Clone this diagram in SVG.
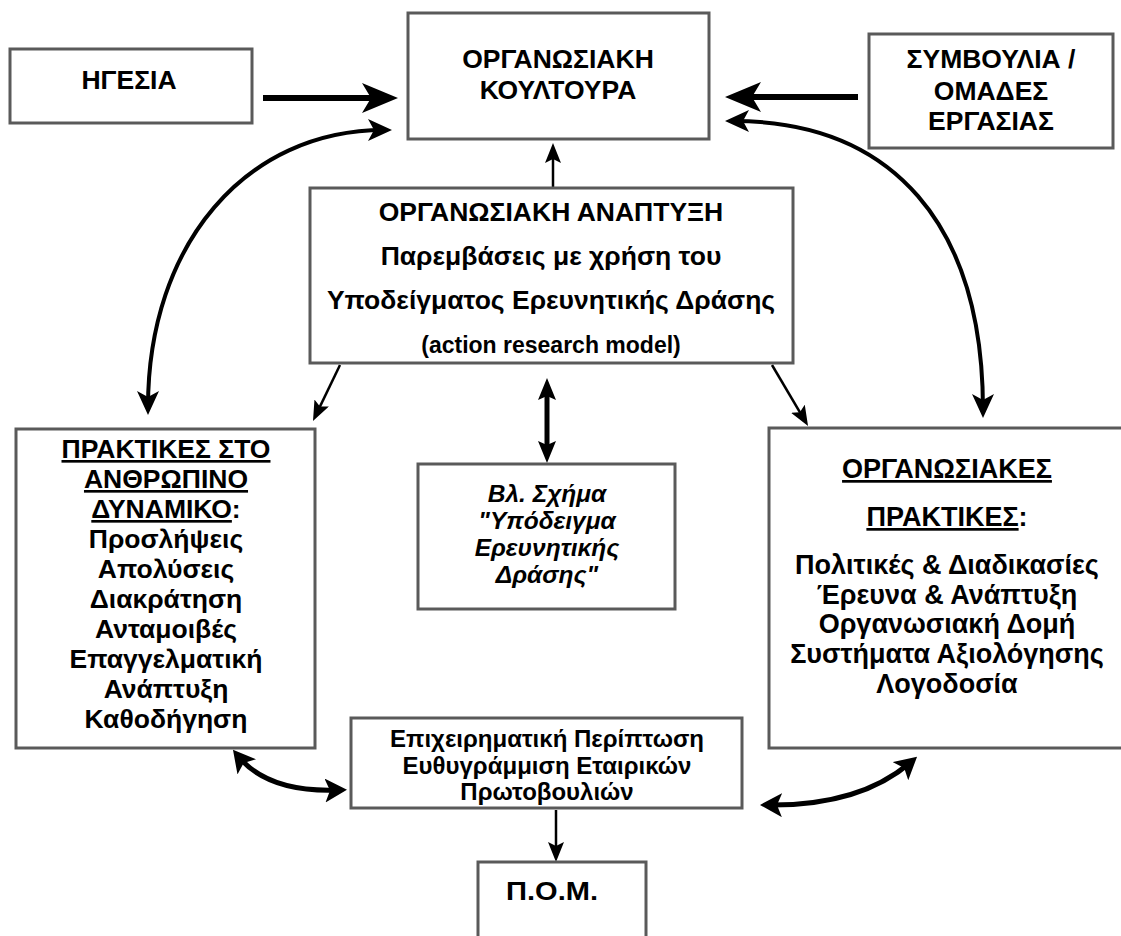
<svg xmlns="http://www.w3.org/2000/svg" width="1121" height="936" viewBox="0 0 1121 936">
  <style>
    .box { fill: #ffffff; stroke: #5a5a5a; stroke-width: 3; }
    .t { font-family: "Liberation Sans", Arial, sans-serif; font-weight: bold; fill: #000; text-anchor: middle; }
    .top { font-size: 26.5px; }
    .od { font-size: 26.5px; }
    .od-sub { font-size: 23px; }
    .hr { font-size: 26.5px; }
    .org { font-size: 27px; }
    .fig { font-size: 24.5px; font-style: italic; }
    .bc { font-size: 24px; }
    .hrm { font-size: 26px; }
    .u { text-decoration: underline; }
    .c { fill: none; stroke: #000; stroke-linecap: butt; }
  </style>
  <defs>
    <marker id="headA" markerUnits="userSpaceOnUse" markerWidth="36" markerHeight="30" refX="26" refY="15" orient="auto-start-reverse" viewBox="0 0 36 30">
      <path d="M0,0 L36,15 L0,30 L9,15 Z" fill="#000"/>
    </marker>
    <marker id="headB" markerUnits="userSpaceOnUse" markerWidth="24" markerHeight="22" refX="16" refY="11" orient="auto-start-reverse" viewBox="0 0 24 22">
      <path d="M0,0 L24,11 L0,22 L6,11 Z" fill="#000"/>
    </marker>
    <marker id="headC" markerUnits="userSpaceOnUse" markerWidth="20" markerHeight="16" refX="14" refY="8" orient="auto-start-reverse" viewBox="0 0 20 16">
      <path d="M0,0 L20,8 L0,16 L4,8 Z" fill="#000"/>
    </marker>
    <marker id="headD" markerUnits="userSpaceOnUse" markerWidth="22" markerHeight="18" refX="14" refY="9" orient="auto-start-reverse" viewBox="0 0 22 18">
      <path d="M0,0 L22,9 L0,18 L4,9 Z" fill="#000"/>
    </marker>
    <marker id="headE" markerUnits="userSpaceOnUse" markerWidth="22" markerHeight="24" refX="14" refY="12" orient="auto-start-reverse" viewBox="0 0 22 24">
      <path d="M0,0 L22,12 L0,24 L5,12 Z" fill="#000"/>
    </marker>
  </defs>

  <rect width="1121" height="936" fill="#ffffff"/>

  <!-- connectors -->
  <g id="connectors">
    <path class="c" stroke-width="6" d="M263,98 L388,98" marker-end="url(#headA)"/>
    <path class="c" stroke-width="6" d="M858,97 L735,97" marker-end="url(#headA)"/>
    <path class="c" stroke-width="4" d="M384,130 C246,130 148,244 148,407" marker-start="url(#headB)" marker-end="url(#headB)"/>
    <path class="c" stroke-width="4" d="M733,121 C893,121 983,225 983,410" marker-start="url(#headB)" marker-end="url(#headB)"/>
    <path class="c" stroke-width="2.5" d="M553,188 L553,149" marker-end="url(#headC)"/>
    <path class="c" stroke-width="2.5" d="M340,365 L315.6,415.6" marker-end="url(#headC)"/>
    <path class="c" stroke-width="2.5" d="M772,365 L805,420.8" marker-end="url(#headC)"/>
    <path class="c" stroke-width="5" stroke="#222" d="M547,386 L547,455" marker-start="url(#headD)" marker-end="url(#headD)"/>
    <path class="c" stroke-width="5" d="M238,756 Q268,793 339,790" marker-start="url(#headE)" marker-end="url(#headE)"/>
    <path class="c" stroke-width="5" d="M768,805 Q860,806 911,762" marker-start="url(#headE)" marker-end="url(#headE)"/>
    <path class="c" stroke-width="2.5" d="M556,810 L556,856" marker-end="url(#headC)"/>
  </g>

  <g id="leadership">
    <rect class="box" x="10" y="49" width="242" height="74"/>
    <text class="t top" x="129" y="89">ΗΓΕΣΙΑ</text>
  </g>

  <g id="culture">
    <rect class="box" x="408" y="13" width="301" height="126"/>
    <text class="t top" x="558" y="68">ΟΡΓΑΝΩΣΙΑΚΗ</text>
    <text class="t top" x="558" y="99">ΚΟΥΛΤΟΥΡΑ</text>
  </g>

  <g id="councils">
    <rect class="box" x="869" y="34" width="244" height="114"/>
    <text class="t top" x="991" y="68">ΣΥΜΒΟΥΛΙΑ /</text>
    <text class="t top" x="991" y="100">ΟΜΑΔΕΣ</text>
    <text class="t top" x="991" y="130">ΕΡΓΑΣΙΑΣ</text>
  </g>

  <g id="od">
    <rect class="box" x="310" y="188" width="483" height="175"/>
    <text class="t od" x="551" y="221">ΟΡΓΑΝΩΣΙΑΚΗ ΑΝΑΠΤΥΞΗ</text>
    <text class="t od" x="551" y="265">Παρεμβάσεις με χρήση του</text>
    <text class="t od" x="551" y="309">Υποδείγματος Ερευνητικής Δράσης</text>
    <text class="t od-sub" x="551" y="353">(action research model)</text>
  </g>

  <g id="hr-practices">
    <rect class="box" x="16" y="429" width="299" height="319"/>
    <text class="t hr" x="166" y="458"><tspan class="u">ΠΡΑΚΤΙΚΕΣ ΣΤΟ</tspan></text>
    <text class="t hr" x="166" y="488"><tspan class="u">ΑΝΘΡΩΠΙΝΟ</tspan></text>
    <text class="t hr" x="166" y="518"><tspan class="u">ΔΥΝΑΜΙΚΟ</tspan>:</text>
    <text class="t hr" x="166" y="548">Προσλήψεις</text>
    <text class="t hr" x="166" y="578">Απολύσεις</text>
    <text class="t hr" x="166" y="608">Διακράτηση</text>
    <text class="t hr" x="166" y="638">Ανταμοιβές</text>
    <text class="t hr" x="166" y="668">Επαγγελματική</text>
    <text class="t hr" x="166" y="698">Ανάπτυξη</text>
    <text class="t hr" x="166" y="728">Καθοδήγηση</text>
  </g>

  <g id="see-figure">
    <rect class="box" x="418" y="464" width="257" height="145"/>
    <text class="t fig" x="547" y="502">Βλ. Σχήμα</text>
    <text class="t fig" x="547" y="529">"Υπόδειγμα</text>
    <text class="t fig" x="547" y="556">Ερευνητικής</text>
    <text class="t fig" x="547" y="583">Δράσης"</text>
  </g>

  <g id="org-practices">
    <rect class="box" x="769" y="428" width="360" height="320"/>
    <text class="t org" x="947" y="478"><tspan class="u">ΟΡΓΑΝΩΣΙΑΚΕΣ</tspan></text>
    <text class="t org" x="947" y="526"><tspan class="u">ΠΡΑΚΤΙΚΕΣ</tspan>:</text>
    <text class="t org" x="947" y="574">Πολιτικές &amp; Διαδικασίες</text>
    <text class="t org" x="947" y="604">Έρευνα &amp; Ανάπτυξη</text>
    <text class="t org" x="947" y="633">Οργανωσιακή Δομή</text>
    <text class="t org" x="947" y="663">Συστήματα Αξιολόγησης</text>
    <text class="t org" x="947" y="693">Λογοδοσία</text>
  </g>

  <g id="business-case">
    <rect class="box" x="351" y="718" width="391" height="90"/>
    <text class="t bc" x="547" y="747">Επιχειρηματική Περίπτωση</text>
    <text class="t bc" x="547" y="774">Ευθυγράμμιση Εταιρικών</text>
    <text class="t bc" x="547" y="800">Πρωτοβουλιών</text>
  </g>

  <g id="hrm">
    <rect class="box" x="478" y="862" width="168" height="90"/>
    <text class="t hrm" x="552" y="900" textLength="92" lengthAdjust="spacingAndGlyphs">Π.Ο.Μ.</text>
  </g>
</svg>
